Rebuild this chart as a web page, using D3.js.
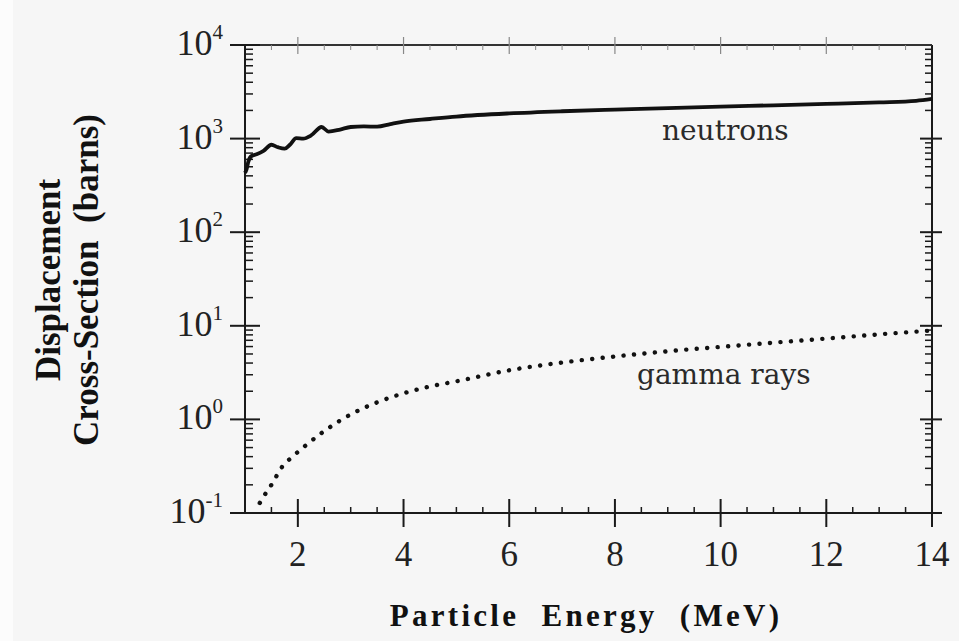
<!DOCTYPE html>
<html>
<head>
<meta charset="utf-8">
<script src="https://cdn.jsdelivr.net/npm/d3@7/dist/d3.min.js"></script>
<style>
  html, body { margin: 0; padding: 0; background: #f7f7f7; }
  svg { display: block; }
  text { white-space: pre; }
</style>
</head>
<body>
<div id="vis"></div>
<script>
// datos
const NEUTRON_E = [1.0, 1.03, 1.06, 1.12, 1.22, 1.35, 1.5, 1.62, 1.75, 1.85, 1.97, 2.1, 2.25, 2.45, 2.58, 2.8, 3.0, 3.25, 3.5, 3.75, 4.0, 4.5, 5.0, 6.0, 7.0, 8.0, 9.0, 10.0, 11.0, 12.0, 13.0, 13.7, 14.0];
const NEUTRON_XS = [430, 470, 560, 650, 680, 740, 860, 810, 780, 860, 1010, 1000, 1080, 1330, 1190, 1250, 1330, 1350, 1340, 1430, 1520, 1620, 1720, 1860, 1960, 2040, 2120, 2200, 2270, 2350, 2440, 2530, 2650];

const GAMMA_E = [1.28, 1.4, 1.5, 1.7, 1.9, 2.1, 2.5, 3.0, 3.5, 4.0, 4.5, 5.0, 6.0, 7.0, 8.0, 9.0, 10.0, 11.0, 12.0, 13.0, 14.0];
const GAMMA_XS = [0.128, 0.165, 0.2, 0.31, 0.4, 0.5, 0.75, 1.13, 1.52, 1.9, 2.25, 2.55, 3.35, 4.05, 4.7, 5.35, 5.95, 6.6, 7.3, 8.1, 8.9];

const X_TICKS = [2, 4, 6, 8, 10, 12, 14];
const Y_TICKS = [0.1, 1, 10, 100, 1000, 10000];
const Y_EXPONENTS = ["-1", "0", "1", "2", "3", "4"];

const WIDTH = 959;
const HEIGHT = 641;
const PLOT = { left: 245, right: 932, top: 45, bottom: 513 };

const SVG = d3.select("#vis").append("svg")
  .attr("width", WIDTH).attr("height", HEIGHT);

SVG.append("rect").attr("width", WIDTH).attr("height", HEIGHT).attr("fill", "#f6f6f6");
SVG.append("rect").attr("width", 13).attr("height", HEIGHT).attr("fill", "#fcfcfc");

const xScale = d3.scaleLinear().domain([1, 14]).range([PLOT.left, PLOT.right]);
const yScale = d3.scaleLog().domain([0.1, 10000]).range([PLOT.bottom, PLOT.top]);

const INK = "#1a1a1a";
const axes = SVG.append("g").attr("stroke", INK).attr("fill", "none");

// marco
axes.append("line").attr("x1", PLOT.left).attr("x2", PLOT.left)
  .attr("y1", PLOT.top).attr("y2", PLOT.bottom).attr("stroke-width", 2);
axes.append("line").attr("x1", PLOT.right).attr("x2", PLOT.right)
  .attr("y1", PLOT.top).attr("y2", PLOT.bottom + 14).attr("stroke-width", 2);
axes.append("line").attr("x1", PLOT.left - 15).attr("x2", PLOT.right + 8)
  .attr("y1", PLOT.bottom).attr("y2", PLOT.bottom).attr("stroke-width", 2);
axes.append("line").attr("x1", PLOT.left - 15).attr("x2", PLOT.right)
  .attr("y1", PLOT.top).attr("y2", PLOT.top).attr("stroke-width", 2).attr("stroke", "#333");

// ticks eje x
const xMinor = d3.range(1.5, 14, 0.5).filter(d => !X_TICKS.includes(d));
axes.selectAll(".xmaj").data(X_TICKS).join("line")
  .attr("x1", d => xScale(d)).attr("x2", d => xScale(d))
  .attr("y1", PLOT.bottom - 14).attr("y2", PLOT.bottom + 14).attr("stroke-width", 2);
axes.selectAll(".xmin").data(xMinor).join("line")
  .attr("x1", d => xScale(d)).attr("x2", d => xScale(d))
  .attr("y1", PLOT.bottom - 6).attr("y2", PLOT.bottom).attr("stroke-width", 1.5);

// ticks arriba (mas tenues)
const topTicks = SVG.append("g").attr("stroke", "#888");
topTicks.selectAll("line.maj").data(X_TICKS.slice(0, -1)).join("line")
  .attr("x1", d => xScale(d)).attr("x2", d => xScale(d))
  .attr("y1", PLOT.top - 8).attr("y2", PLOT.top + 9).attr("stroke-width", 1.2);
topTicks.selectAll("line.min").data(xMinor).join("line")
  .attr("x1", d => xScale(d)).attr("x2", d => xScale(d))
  .attr("y1", PLOT.top).attr("y2", PLOT.top + 5).attr("stroke-width", 1);

// ticks eje y (log)
const yMinor = [];
Y_TICKS.slice(0, -1).forEach(b => d3.range(2, 10).forEach(k => yMinor.push(b * k)));
axes.selectAll(".ymaj").data(Y_TICKS).join("line")
  .attr("x1", PLOT.left - 15).attr("x2", PLOT.left + 15)
  .attr("y1", d => yScale(d)).attr("y2", d => yScale(d)).attr("stroke-width", 2);
axes.selectAll(".ymin").data(yMinor).join("line")
  .attr("x1", PLOT.left).attr("x2", PLOT.left + 8)
  .attr("y1", d => yScale(d)).attr("y2", d => yScale(d)).attr("stroke-width", 1.5);
axes.selectAll(".ymajr").data(Y_TICKS.slice(0, -1)).join("line")
  .attr("x1", PLOT.right - 12).attr("x2", PLOT.right + 10)
  .attr("y1", d => yScale(d)).attr("y2", d => yScale(d)).attr("stroke-width", 2);
axes.selectAll(".yminr").data(yMinor).join("line")
  .attr("x1", PLOT.right - 7).attr("x2", PLOT.right)
  .attr("y1", d => yScale(d)).attr("y2", d => yScale(d)).attr("stroke-width", 1.5);

// etiquetas
const SERIF = "'Liberation Serif', 'Times New Roman', serif";
const labels = SVG.append("g").attr("fill", "#222").attr("font-family", SERIF);

labels.selectAll(".xl").data(X_TICKS).join("text")
  .attr("x", d => xScale(d)).attr("y", 566)
  .attr("text-anchor", "middle").attr("font-size", 35)
  .text(d => d);

const yl = labels.selectAll(".yl").data(Y_TICKS).join("text")
  .attr("x", 223).attr("y", d => yScale(d) + 10)
  .attr("text-anchor", "end").attr("font-size", 36);
yl.append("tspan").text("10");
yl.append("tspan").attr("font-size", 21).attr("dy", -16)
  .text((d, i) => Y_EXPONENTS[i]);

// titulos de ejes
SVG.append("text")
  .attr("x", 586).attr("y", 626)
  .attr("text-anchor", "middle")
  .attr("font-family", SERIF).attr("font-weight", "bold")
  .attr("font-size", 31).attr("letter-spacing", 3.3).attr("fill", "#111")
  .text("Particle  Energy  (MeV)");

const yTitle = SVG.append("g").attr("transform", "translate(0,280) rotate(-90)")
  .attr("font-family", SERIF).attr("font-weight", "bold")
  .attr("font-size", 35).attr("fill", "#111").attr("text-anchor", "middle");
yTitle.append("text").attr("x", 0).attr("y", 60).text("Displacement");
yTitle.append("text").attr("x", 0).attr("y", 98)
  .text("Cross-Section  (barns)");

// curvas
const line = d3.line()
  .x(d => xScale(d[0]))
  .y(d => yScale(d[1]))
  .curve(d3.curveMonotoneX);

const neutrons = NEUTRON_E.map((e, i) => [e, NEUTRON_XS[i]]);
const gamma = GAMMA_E.map((e, i) => [e, GAMMA_XS[i]]);

SVG.append("path").datum(neutrons)
  .attr("d", line)
  .attr("fill", "none").attr("stroke", "#111")
  .attr("stroke-width", 3.8).attr("stroke-linejoin", "round");

SVG.append("path").datum(gamma)
  .attr("d", line)
  .attr("fill", "none").attr("stroke", "#111")
  .attr("stroke-width", 4.4).attr("stroke-linecap", "round")
  .attr("stroke-dasharray", "0.1 10.4");

const ANNOT = "'DejaVu Serif', serif";
SVG.append("text").attr("x", 662).attr("y", 140)
  .attr("font-family", ANNOT).attr("font-size", 28).attr("fill", "#2a2a2a")
  .text("neutrons");
SVG.append("text").attr("x", 637).attr("y", 384)
  .attr("font-family", ANNOT).attr("font-size", 28).attr("fill", "#2a2a2a")
  .text("gamma rays");
</script>
</body>
</html>
